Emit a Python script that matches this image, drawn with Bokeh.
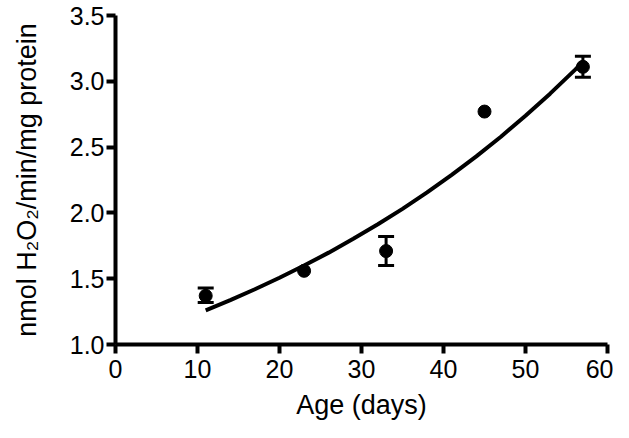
from bokeh.plotting import figure
from bokeh.models import ColumnDataSource, Whisker, TeeHead, FixedTicker, NumeralTickFormatter, Range1d
from bokeh.embed import file_html
from bokeh.resources import INLINE

# data
age = [11, 23, 33, 45, 57]
rate = [1.37, 1.56, 1.71, 2.77, 3.11]

# error bars visible in the reference (others hidden behind the markers)
err_age = [11, 33, 57]
err_low = [1.32, 1.60, 3.03]
err_high = [1.43, 1.82, 3.19]

# fitted curve
fit_x = [11, 14, 17, 20, 23, 26, 29, 32, 35, 38, 41, 44, 47, 50, 53, 56, 57]
fit_y = [1.26, 1.337, 1.420, 1.507, 1.600, 1.698, 1.803, 1.914, 2.031, 2.156,
         2.289, 2.430, 2.579, 2.738, 2.906, 3.085, 3.147]

x_ticks = [0, 10, 20, 30, 40, 50, 60]
y_ticks = [1.0, 1.5, 2.0, 2.5, 3.0, 3.5]

FONT = "Liberation Sans"

p = figure(width=613, height=422, output_backend="svg", toolbar_location=None,
           x_range=Range1d(0, 60), y_range=Range1d(1.0, 3.5),
           min_border_left=115, min_border_top=15, min_border_right=6, min_border_bottom=76)
p.outline_line_color = None
p.grid.visible = False
p.background_fill_color = "white"

p.line(fit_x, fit_y, line_color="black", line_width=4)

esrc = ColumnDataSource(dict(x=err_age, lo=err_low, hi=err_high))
w = Whisker(source=esrc, base="x", upper="hi", lower="lo",
            line_color="black", line_width=3,
            upper_head=TeeHead(size=16, line_width=3, line_color="black"),
            lower_head=TeeHead(size=16, line_width=3, line_color="black"))
p.add_layout(w)
p.scatter(age, rate, size=13, color="black")

for ax in (p.xaxis[0], p.yaxis[0]):
    ax.axis_line_width = 4
    ax.axis_line_color = "black"
    ax.major_tick_line_width = 4
    ax.major_tick_line_color = "black"
    ax.major_tick_out = 9
    ax.major_tick_in = 0
    ax.minor_tick_line_color = None
    ax.major_label_text_font = FONT
    ax.major_label_text_font_size = "25px"
    ax.major_label_text_color = "black"
    ax.axis_label_text_font = FONT
    ax.axis_label_text_font_size = "27px"
    ax.axis_label_text_font_style = "normal"
    ax.axis_label_text_color = "black"

p.xaxis.major_label_standoff = 6
p.yaxis.major_label_standoff = 2
p.xaxis.ticker = FixedTicker(ticks=x_ticks)
p.yaxis.ticker = FixedTicker(ticks=y_ticks)
p.yaxis.formatter = NumeralTickFormatter(format="0.0")
p.xaxis.axis_label = "Age (days)"
p.yaxis.axis_label = "nmol H\u2082O\u2082/min/mg protein"
p.xaxis.axis_label_standoff = 9
p.yaxis.axis_label_standoff = 25

open("out.html", "w").write(file_html(p, INLINE))
